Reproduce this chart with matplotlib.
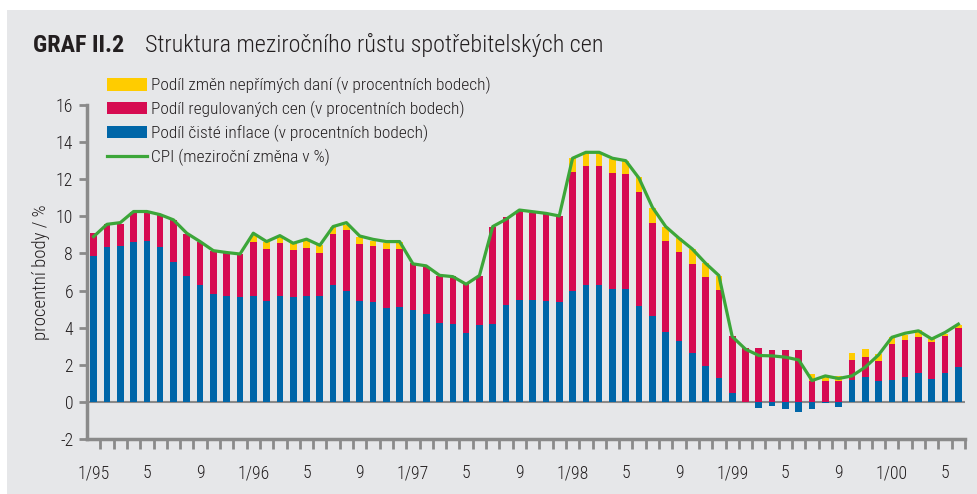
import matplotlib
matplotlib.use("Agg")
import matplotlib.pyplot as plt
from matplotlib import font_manager
from matplotlib.patches import Patch, Rectangle
from matplotlib.lines import Line2D
import numpy as np

# ---- font choice: prefer a narrow family (reference uses a condensed sans) ----
_fonts = font_manager.fontManager.ttflist
_names = {f.name for f in _fonts}
FONT, STRETCH, NARROW = 'Liberation Sans', 'normal', False
for n in ['Liberation Sans Narrow', 'Roboto Condensed', 'Open Sans Condensed',
          'Noto Sans Condensed', 'Noto Sans Display Condensed']:
    if n in _names:
        FONT, NARROW = n, True
        break
if not NARROW:
    for f in _fonts:
        st = f.stretch
        cond = (isinstance(st, str) and 'condensed' in st) or (isinstance(st, (int, float)) and st < 500)
        if cond and f.name in ('Noto Sans', 'Open Sans', 'Roboto') and f.weight in ('normal', 400, 'regular'):
            FONT, STRETCH, NARROW = f.name, 'condensed', True
            break
plt.rcParams['font.family'] = [FONT, 'DejaVu Sans']
plt.rcParams['font.stretch'] = STRETCH
plt.rcParams['font.weight'] = 'light'
plt.rcParams['axes.labelweight'] = 'light'
FS_TICK = 12.8 if NARROW else 11.5
FS_YLAB = 13.5 if NARROW else 12
FS_LEG = 12.5 if NARROW else 10.5
FS_TTL = 17.4 if NARROW else 15.2

# Months 1/95 .. 6/00
months = [f"{m}/{y}" for y in ["95", "96", "97", "98", "99", "00"] for m in range(1, 13)][:66]
tick_labels = ['1/95', '5', '9', '1/96', '5', '9', '1/97', '5', '9', '1/98', '5', '9',
               '1/99', '5', '9', '1/00', '5']

# cumulative tops
core = [7.87, 8.37, 8.42, 8.62, 8.69, 8.33, 7.54, 6.81, 6.30, 5.84, 5.73, 5.64,
        5.73, 5.42, 5.73, 5.64, 5.73, 5.73, 6.30, 5.98, 5.45, 5.37, 5.08, 5.10,
        4.94, 4.76, 4.27, 4.18, 3.70, 4.15, 4.18, 5.23, 5.50, 5.50, 5.42, 5.40,
        5.98, 6.30, 6.30, 6.07, 6.07, 5.19, 4.65, 3.74, 3.29, 2.62, 1.96, 1.31,
        0.50, -0.03, -0.34, -0.22, -0.37, -0.52, -0.37, -0.05, -0.25, 1.19, 1.36, 1.11,
        1.19, 1.36, 1.54, 1.26, 1.54, 1.89]
regulated_top = [9.09, 9.57, 9.59, 10.26, 10.31, 10.09, 9.81, 9.05, 8.64, 8.15, 8.05, 7.97,
                 8.62, 8.23, 8.55, 8.19, 8.32, 8.05, 9.05, 9.27, 8.53, 8.41, 8.24, 8.24,
                 7.47, 7.29, 6.81, 6.79, 6.34, 6.79, 9.41, 9.99, 10.29, 10.20, 10.11, 10.04,
                 12.41, 12.72, 12.72, 12.36, 12.28, 11.30, 9.66, 8.67, 8.08, 7.45, 6.73, 6.05,
                 3.56, 2.93, 2.89, 2.80, 2.80, 2.77, 1.10, 1.10, 1.10, 2.26, 2.44, 2.23,
                 3.14, 3.34, 3.52, 3.23, 3.56, 3.97]
tax_top = [9.09, 9.57, 9.59, 10.26, 10.31, 10.09, 9.81, 9.05, 8.64, 8.15, 8.05, 7.97,
           9.00, 8.64, 8.91, 8.58, 8.73, 8.44, 9.45, 9.54, 8.87, 8.69, 8.58, 8.64,
           7.47, 7.29, 6.81, 6.79, 6.34, 6.79, 9.41, 9.99, 10.29, 10.20, 10.11, 10.04,
           13.13, 13.40, 13.40, 13.09, 13.00, 12.10, 10.43, 9.41, 8.82, 8.24, 7.47, 6.81,
           3.56, 2.93, 2.89, 2.80, 2.80, 2.77, 1.51, 1.42, 1.42, 2.62, 2.84, 2.59,
           3.48, 3.61, 3.88, 3.39, 3.66, 4.15]
cpi = [8.91, 9.57, 9.66, 10.26, 10.26, 10.09, 9.81, 9.09, 8.64, 8.15, 8.05, 7.97,
       9.09, 8.64, 8.96, 8.55, 8.77, 8.44, 9.45, 9.66, 8.94, 8.76, 8.64, 8.64,
       7.44, 7.33, 6.82, 6.75, 6.34, 6.81, 9.45, 9.84, 10.34, 10.25, 10.16, 10.02,
       13.13, 13.45, 13.45, 13.13, 13.00, 12.05, 10.49, 9.45, 8.82, 8.24, 7.47, 6.81,
       3.52, 2.84, 2.50, 2.48, 2.41, 2.26, 1.15, 1.40, 1.26, 1.40, 1.87, 2.53,
       3.48, 3.70, 3.83, 3.39, 3.74, 4.19]

core = np.array(core)
reg_base = np.maximum(core, 0)
regulated = np.array(regulated_top) - reg_base
tax = np.array(tax_top) - np.array(regulated_top)

C_YEL = '#ffcc00'
C_RED = '#d60b51'
C_BLU = '#0066a8'
C_GRN = '#3ca639'
C_BG = '#e6e7e9'
C_AX = '#8a8a8a'
C_TXT = '#231f20'

fig = plt.figure(figsize=(9.78, 4.94), dpi=100)
fig.patch.set_facecolor('white')
fig.patches.append(Rectangle((7 / 978, 0), 1, 1 - 10 / 494, transform=fig.transFigure,
                             facecolor=C_BG, edgecolor='none', zorder=-10))

ax = fig.add_axes([87 / 978, 55 / 494, (965 - 87) / 978, (439 - 105) / 494])
ax.set_facecolor('none')
x = np.arange(len(months))
w = 0.5
ax.bar(x, core, width=w, color=C_BLU, zorder=2)
ax.bar(x, regulated, width=w, bottom=reg_base, color=C_RED, zorder=2)
ax.bar(x, tax, width=w, bottom=regulated_top, color=C_YEL, zorder=2)
ax.plot(x, cpi, color=C_GRN, lw=2.3, zorder=4)
ax.axhline(0, color=C_AX, lw=1.5, zorder=1)

ax.set_xlim(-0.5, 65.45)
ax.set_ylim(-2, 16)
ax.set_yticks(np.arange(-2, 17, 2))
ax.set_yticklabels([str(v) for v in range(-2, 17, 2)])
ax.set_xticks(np.arange(0, 66, 4))
ax.set_xticklabels(tick_labels)
ax.set_xticks(np.arange(0.5, 65.6, 1), minor=True)
ax.tick_params(axis='x', which='major', length=0, pad=18, labelsize=FS_TICK, labelcolor=C_TXT)
ax.tick_params(axis='x', which='minor', length=7, width=2, color=C_AX, direction='out')
ax.tick_params(axis='y', length=6, width=2, color=C_AX, labelsize=FS_TICK, labelcolor=C_TXT, pad=4)
for lab in ax.get_xticklabels() + ax.get_yticklabels():
    lab.set_fontweight('light')
for s in ['top', 'right']:
    ax.spines[s].set_visible(False)
for s in ['left', 'bottom']:
    ax.spines[s].set_color(C_AX)
    ax.spines[s].set_linewidth(2.5)
ax.set_ylabel('procentní body / %', fontsize=FS_YLAB, color=C_TXT, labelpad=4,
              fontweight='light')

handles = [Patch(facecolor=C_YEL, edgecolor='none'),
           Patch(facecolor=C_RED, edgecolor='none'),
           Patch(facecolor=C_BLU, edgecolor='none'),
           Line2D([0], [0], color=C_GRN, lw=2.3)]
labels = ['Podíl změn nepřímých daní (v procentních bodech)',
          'Podíl regulovaných cen (v procentních bodech)',
          'Podíl čisté inflace (v procentních bodech)',
          'CPI (meziroční změna v %)']
leg_px = FS_LEG * 100 / 72
fig.legend(handles, labels, loc='upper left', bbox_to_anchor=(107 / 978, 1 - 77 / 494),
           frameon=False, fontsize=FS_LEG, handlelength=40 / leg_px, handleheight=13 / leg_px,
           handletextpad=4 / leg_px, labelspacing=(24 - leg_px) / leg_px, borderaxespad=0,
           borderpad=0, labelcolor=C_TXT)

fig.text(33 / 978, 1 - 45 / 494, 'GRAF II.2', fontsize=FS_TTL, fontweight='bold',
         color=C_TXT, va='center', ha='left')
fig.text(145 / 978, 1 - 45 / 494, 'Struktura meziročního růstu spotřebitelských cen',
         fontsize=FS_TTL, color=C_TXT, va='center', ha='left')

fig.savefig('out.png', dpi=100, facecolor=fig.get_facecolor())
